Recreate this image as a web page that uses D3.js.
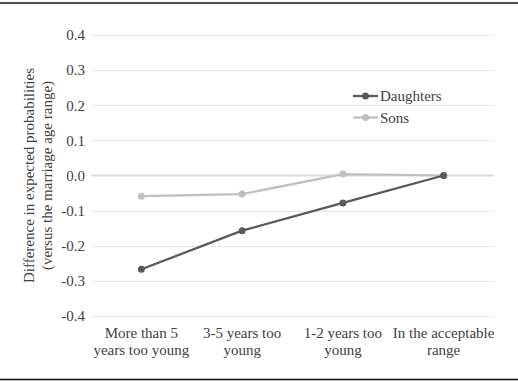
<!DOCTYPE html>
<html>
<head>
<meta charset="utf-8">
<script src="https://cdn.jsdelivr.net/npm/d3@7"></script>
</head>
<body style="margin:0">
<svg id="chart" width="518" height="382"></svg>
<script>
// Categories along the x axis (each label broken into lines)
const categories = [
  ["More than 5", "years too young"],
  ["3-5 years too", "young"],
  ["1-2 years too", "young"],
  ["In the acceptable", "range"]
];
const daughters = [-0.267, -0.157, -0.078, 0.0];
const sons = [-0.059, -0.053, 0.004, 0.0];
const yTicks = [0.4, 0.3, 0.2, 0.1, 0.0, -0.1, -0.2, -0.3, -0.4];
const seriesNames = ["Daughters", "Sons"];
const seriesColors = ["#595959", "#bfbfbf"];
const yTitle = ["Difference in expected probabilities", "(versus the marriage age range)"];

const W = 518, H = 382;
const plot = { left: 91, right: 494, top: 35, bottom: 316 };
const FONT = "Liberation Serif";
const FS = 15;
const TEXT = "#404040";

const svg = d3.select("#chart").style("display", "block");

// Shared text styling
function styled(sel) {
  return sel.style("font-family", `'${FONT}'`).style("font-size", FS + "px").style("fill", TEXT);
}

// Frame rules above and below the figure
svg.append("line").attr("x1", 0).attr("x2", W).attr("y1", 3).attr("y2", 3)
  .attr("stroke", "#111").attr("stroke-width", 1.5);
svg.append("line").attr("x1", 0).attr("x2", W).attr("y1", 379.5).attr("y2", 379.5)
  .attr("stroke", "#111").attr("stroke-width", 1.5);

const x = d3.scaleBand().domain(d3.range(categories.length))
  .range([plot.left, plot.right]);
const y = d3.scaleLinear().domain([-0.4, 0.4]).range([plot.bottom, plot.top]);

// Gridlines
svg.append("g").selectAll("line").data(yTicks.filter(d => d !== 0)).join("line")
  .attr("x1", plot.left).attr("x2", plot.right)
  .attr("y1", d => Math.round(y(d)) + 0.5).attr("y2", d => Math.round(y(d)) + 0.5)
  .attr("stroke", "#e6e6e6").attr("stroke-width", 1);
// Zero line
svg.append("line").attr("x1", plot.left).attr("x2", plot.right)
  .attr("y1", y(0)).attr("y2", y(0))
  .attr("stroke", "#d9d9d9").attr("stroke-width", 2);

// Y tick labels
styled(svg.selectAll(".ytick").data(yTicks).join("text").attr("class", "ytick"))
  .attr("x", 85).attr("y", d => y(d)).attr("dy", "0.35em")
  .attr("text-anchor", "end")
  .text(d => d3.format(".1f")(d).replace("−", "-"));

// Y axis title, one text per line
styled(svg.selectAll(".ytitle").data(yTitle).join("text").attr("class", "ytitle"))
  .attr("transform", (d, i) => `translate(${i === 0 ? 34 : 52},${(plot.top + plot.bottom) / 2}) rotate(-90)`)
  .attr("text-anchor", "middle")
  .text(d => d);

// X category labels, one text per line
const xLines = categories.flatMap((lines, i) => lines.map((t, j) => ({ t, i, j })));
styled(svg.selectAll(".xlab").data(xLines).join("text").attr("class", "xlab"))
  .attr("x", d => x(d.i) + x.bandwidth() / 2).attr("y", d => 338 + d.j * 17)
  .attr("text-anchor", "middle")
  .text(d => d.t);

// Series lines and markers (Sons drawn first so Daughters sit on top)
const series = [
  { name: seriesNames[1], values: sons, color: seriesColors[1] },
  { name: seriesNames[0], values: daughters, color: seriesColors[0] }
];
const line = d3.line().x((d, i) => x(i) + x.bandwidth() / 2).y(d => y(d));
series.forEach(s => {
  svg.append("path").datum(s.values).attr("d", line)
    .attr("fill", "none").attr("stroke", s.color).attr("stroke-width", 2.25);
  svg.append("g").selectAll("circle").data(s.values).join("circle")
    .attr("cx", (d, i) => x(i) + x.bandwidth() / 2).attr("cy", d => y(d))
    .attr("r", 3.5).attr("fill", s.color);
});

// Legend
seriesNames.forEach((n, i) => {
  const ly = 96 + i * 21.5;
  svg.append("line").attr("x1", 353).attr("x2", 378).attr("y1", ly).attr("y2", ly)
    .attr("stroke", seriesColors[i]).attr("stroke-width", 2.25);
  svg.append("circle").attr("cx", 365.5).attr("cy", ly).attr("r", 3.5)
    .attr("fill", seriesColors[i]);
});
styled(svg.selectAll(".leg").data(seriesNames).join("text").attr("class", "leg"))
  .attr("x", 380).attr("y", (d, i) => 96 + i * 21.5).attr("dy", "0.35em")
  .text(d => d);
</script>
</body>
</html>
